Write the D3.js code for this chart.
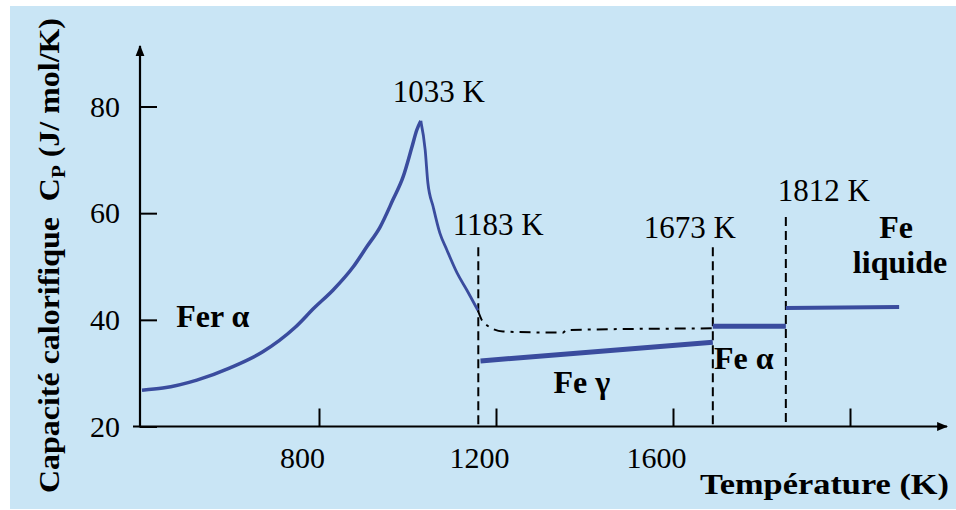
<!DOCTYPE html>
<html>
<head>
<meta charset="utf-8">
<script src="https://cdn.jsdelivr.net/npm/d3@7"></script>
<style>
  body { margin: 0; background: #fff; }
  text { font-family: "Liberation Serif", "Times New Roman", serif; fill: #000; }
</style>
</head>
<body>
<div id="chart"></div>
<script>
// data (T in K, Cp in J/mol/K)
// Fer alpha branch, rising up to the magnetic peak
const riseT  = [400, 447, 524, 599, 673, 745, 790, 832, 877, 908, 938, 967, 990, 1010, 1021, 1030];
const riseCp = [26.8, 27.2, 28.7, 31.0, 34.0, 38.5, 42.3, 45.6, 49.9, 53.7, 57.4, 62.5, 66.8, 72.4, 75.6, 77.3];
// falling after the peak
const fallT  = [1030, 1040, 1046, 1058, 1073, 1089, 1112, 1134, 1159];
const fallCp = [77.3, 71.8, 65.7, 61.2, 56.3, 53.1, 48.8, 45.6, 41.8];

// metastable extension of Fer alpha (dash-dot)
const metaT  = [1159, 1171, 1216, 1351, 1360, 1690];
const metaCp = [41.8, 39.6, 37.8, 37.6, 38.1, 38.4];

// Fe gamma
const gammaT  = [1165, 1690];
const gammaCp = [32.3, 35.8];

// Fe alpha (high temperature)
const deltaT  = [1690, 1855];
const deltaCp = [38.8, 38.8];

// Fe liquide
const liquidT  = [1855, 2111];
const liquidCp = [42.2, 42.4];

// transitions (dashed lines)
const transT      = [1160, 1690, 1855];
const transTopCp  = [53.6, 53.6, 59.3];
const transLabels = ['1183 K', '1673 K', '1812 K'];
const transLabelT  = [1205, 1638, 1941];
const transLabelCp = [55.9, 55.3, 62.3];

// peak label
const peakLabel = '1033 K';
const peakLabelT = 1071, peakLabelCp = 80.8;

// phase labels
const phaseLabels = ['Fer α', 'Fe γ', 'Fe α', 'Fe', 'liquide'];
const phaseT      = [560, 1394, 1760, 2104, 2113];
const phaseCp     = [38.7, 26.3, 30.8, 55.3, 48.8];

// axis ticks
const xTicks = [800, 1200, 1600, 2000];
const xTickLabels = ['800', '1200', '1600', ''];
const yTicks = [20, 40, 60, 80];

// svg size
let svg_width = 956;
let svg_height = 510;

let svg = d3.select('#chart').append('svg')
  .attr('width', svg_width)
  .attr('height', svg_height);

// light blue panel
svg.append('rect')
  .attr('x', 10).attr('y', 6)
  .attr('width', svg_width - 10).attr('height', 503)
  .attr('fill', '#c9e5f5');

let x = d3.scaleLinear().domain([400, 2000]).range([142, 850]);
let y = d3.scaleLinear().domain([20, 80]).range([426.5, 106.5]);

// arrow head
svg.append('defs').append('marker')
  .attr('id', 'arrow')
  .attr('viewBox', '0 0 10 10')
  .attr('refX', 9).attr('refY', 5)
  .attr('markerWidth', 5).attr('markerHeight', 5)
  .attr('orient', 'auto')
  .append('path')
  .attr('d', 'M0,1 L10,5 L0,9 z')
  .attr('fill', '#000');

// axis lines
svg.append('line')
  .attr('x1', 133).attr('y1', y(20)).attr('x2', 947).attr('y2', y(20))
  .attr('stroke', '#000').attr('stroke-width', 2.2)
  .attr('marker-end', 'url(#arrow)');
svg.append('line')
  .attr('x1', 140).attr('y1', y(20) + 1).attr('x2', 140).attr('y2', 46)
  .attr('stroke', '#000').attr('stroke-width', 2.2)
  .attr('marker-end', 'url(#arrow)');

// x ticks (pointing up)
let xAxis = svg.append('g')
  .attr('transform', `translate(0, ${y(20)})`)
  .call(d3.axisBottom(x)
    .tickValues(xTicks)
    .tickFormat((d, i) => xTickLabels[i])
    .tickSizeInner(-18).tickSizeOuter(0).tickPadding(20));
xAxis.select('.domain').remove();
xAxis.selectAll('line').attr('stroke', '#000').attr('stroke-width', 2);
xAxis.selectAll('text')
  .attr('dx', -17)
  .style('font-size', '30px')
  .style('font-family', '"Liberation Serif", serif')
  .attr('fill', '#111');

// y ticks (pointing right)
let yAxis = svg.append('g')
  .attr('transform', 'translate(140, 0)')
  .call(d3.axisLeft(y)
    .tickValues(yTicks)
    .tickSizeInner(-17).tickSizeOuter(0).tickPadding(20));
yAxis.select('.domain').remove();
yAxis.selectAll('line').attr('stroke', '#000').attr('stroke-width', 2);
yAxis.selectAll('text')
  .style('font-size', '30px')
  .style('font-family', '"Liberation Serif", serif')
  .attr('fill', '#111');

// dashed transition lines
svg.selectAll('.trans')
  .data(transT)
  .enter()
  .append('line')
  .classed('trans', true)
  .attr('x1', d => x(d)).attr('x2', d => x(d))
  .attr('y1', (d, i) => y(transTopCp[i]))
  .attr('y2', y(20))
  .attr('stroke', '#000')
  .attr('stroke-width', 2)
  .attr('stroke-dasharray', '9,5');

let line = d3.line()
  .x(d => x(d[0]))
  .y(d => y(d[1]));

// dash-dot metastable
svg.append('path')
  .datum(d3.zip(metaT, metaCp))
  .attr('d', line.curve(d3.curveMonotoneX))
  .attr('fill', 'none')
  .attr('stroke', '#000')
  .attr('stroke-width', 2)
  .attr('stroke-dasharray', '11,6,3,6');

const blue = '#3a4c9e';

// Fer alpha curve: rising and falling parts meet in a cusp
svg.append('path')
  .datum(d3.zip(riseT, riseCp))
  .attr('d', line.curve(d3.curveMonotoneX))
  .attr('fill', 'none')
  .attr('stroke', blue)
  .attr('stroke-width', 3.5)
  .attr('stroke-linejoin', 'round');

svg.append('path')
  .datum(d3.zip(fallT, fallCp))
  .attr('d', line.curve(d3.curveMonotoneX))
  .attr('fill', 'none')
  .attr('stroke', blue)
  .attr('stroke-width', 2.8)
  .attr('stroke-linejoin', 'round');

// straight segments
[[gammaT, gammaCp, 5], [deltaT, deltaCp, 5], [liquidT, liquidCp, 4]].forEach(function(s) {
  svg.append('path')
    .datum(d3.zip(s[0], s[1]))
    .attr('d', line.curve(d3.curveLinear))
    .attr('fill', 'none')
    .attr('stroke', blue)
    .attr('stroke-width', s[2]);
});

// transition labels
svg.selectAll('.tlabel')
  .data(transLabels)
  .enter()
  .append('text')
  .classed('tlabel', true)
  .attr('x', (d, i) => x(transLabelT[i]))
  .attr('y', (d, i) => y(transLabelCp[i]))
  .attr('text-anchor', 'middle')
  .style('font-size', '31px')
  .text(d => d);

svg.append('text')
  .attr('x', x(peakLabelT))
  .attr('y', y(peakLabelCp))
  .attr('text-anchor', 'middle')
  .style('font-size', '31px')
  .text(peakLabel);

// phase labels
svg.selectAll('.plabel')
  .data(phaseLabels)
  .enter()
  .append('text')
  .classed('plabel', true)
  .attr('x', (d, i) => x(phaseT[i]))
  .attr('y', (d, i) => y(phaseCp[i]))
  .attr('text-anchor', 'middle')
  .style('font-size', '32px')
  .style('font-weight', 'bold')
  .text(d => d);

// axis titles
svg.append('text')
  .attr('x', 700).attr('y', 494)
  .attr('textLength', 249)
  .attr('lengthAdjust', 'spacingAndGlyphs')
  .style('font-size', '30px')
  .style('font-weight', 'bold')
  .text('Température (K)');

let yTitle = svg.append('text')
  .attr('transform', 'translate(59, 493) rotate(-90)')
  .attr('textLength', 475)
  .attr('lengthAdjust', 'spacingAndGlyphs')
  .style('font-size', '29px')
  .style('font-weight', 'bold');
yTitle.append('tspan').text('Capacité calorifique\u00a0\u00a0C');
yTitle.append('tspan').attr('baseline-shift', '-30%').style('font-size', '19px').text('P');
yTitle.append('tspan').text(' (J/ mol/K)');
</script>
</body>
</html>
